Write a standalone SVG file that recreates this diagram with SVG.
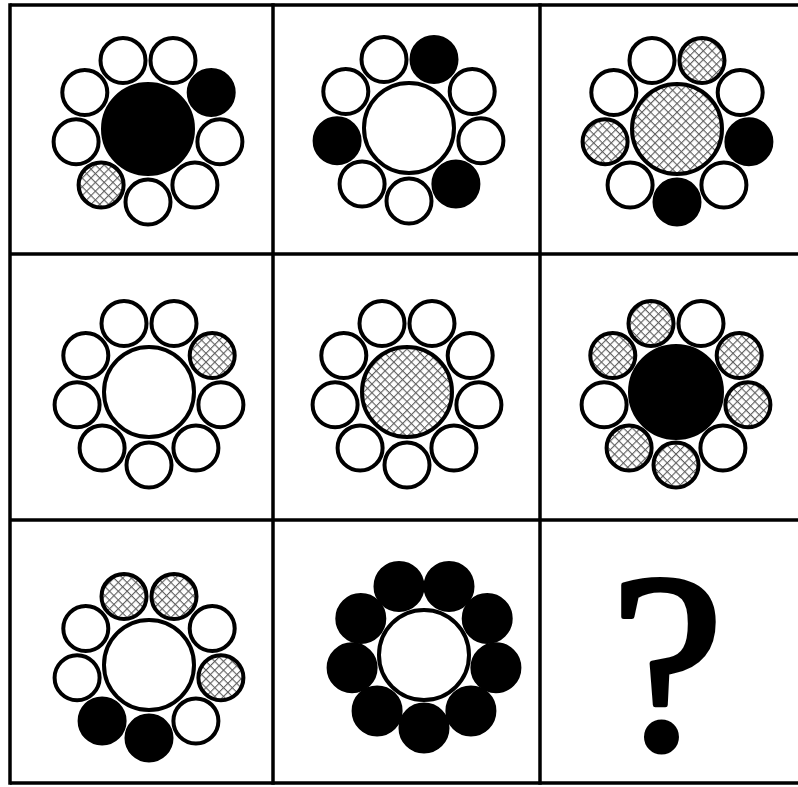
<svg xmlns="http://www.w3.org/2000/svg" xmlns:xlink="http://www.w3.org/1999/xlink" width="798" height="787" viewBox="0 0 798 787">
<style>
.grid{stroke:#000;stroke-width:3.5;fill:none}
.c{stroke:#000;stroke-width:4}
.w{fill:#fff}
.b{fill:#000}
.h{fill:url(#hatch)}
.q{font-family:"Liberation Serif",serif;font-size:255px;fill:#000;stroke:#000;stroke-width:5;stroke-linejoin:round}
</style>
<defs>
<pattern id="hatch" width="6.2" height="6.2" patternUnits="userSpaceOnUse" patternTransform="rotate(45)">
<rect width="6.2" height="6.2" fill="#fff"/>
<line x1="0" y1="0" x2="6.2" y2="0" stroke="#606060" stroke-width="2.2"/>
<line x1="0" y1="0" x2="0" y2="6.2" stroke="#606060" stroke-width="2.2"/>
</pattern>
</defs>
<rect width="798" height="787" fill="#fff"/>
<g id="grid">
<line class="grid" x1="10" y1="5" x2="798" y2="5"/>
<line class="grid" x1="10" y1="254" x2="798" y2="254"/>
<line class="grid" x1="10" y1="520" x2="798" y2="520"/>
<line class="grid" x1="10" y1="783" x2="798" y2="783"/>
<line class="grid" x1="10" y1="3.25" x2="10" y2="784.75"/>
<line class="grid" x1="273" y1="3.25" x2="273" y2="784.75"/>
<line class="grid" x1="540" y1="3.25" x2="540" y2="784.75"/>
</g>
<g id="cell1" transform="translate(148,129)">
<circle class="c w" cx="0" cy="73" r="22.5"/>
<circle class="c h" cx="-46.9" cy="55.9" r="22.5"/>
<circle class="c w" cx="-71.9" cy="12.7" r="22.5"/>
<circle class="c w" cx="-63.2" cy="-36.5" r="22.5"/>
<circle class="c w" cx="-25" cy="-68.6" r="22.5"/>
<circle class="c w" cx="25" cy="-68.6" r="22.5"/>
<circle class="c b" cx="63.2" cy="-36.5" r="22.5"/>
<circle class="c w" cx="71.9" cy="12.7" r="22.5"/>
<circle class="c w" cx="46.9" cy="55.9" r="22.5"/>
<circle class="c b" cx="0" cy="0" r="45"/>
</g>
<g id="cell2" transform="translate(409,128)">
<circle class="c w" cx="0" cy="73" r="22.5"/>
<circle class="c w" cx="-46.9" cy="55.9" r="22.5"/>
<circle class="c b" cx="-71.9" cy="12.7" r="22.5"/>
<circle class="c w" cx="-63.2" cy="-36.5" r="22.5"/>
<circle class="c w" cx="-25" cy="-68.6" r="22.5"/>
<circle class="c b" cx="25" cy="-68.6" r="22.5"/>
<circle class="c w" cx="63.2" cy="-36.5" r="22.5"/>
<circle class="c w" cx="71.9" cy="12.7" r="22.5"/>
<circle class="c b" cx="46.9" cy="55.9" r="22.5"/>
<circle class="c w" cx="0" cy="0" r="45"/>
</g>
<g id="cell3" transform="translate(677,129)">
<circle class="c b" cx="0" cy="73" r="22.5"/>
<circle class="c w" cx="-46.9" cy="55.9" r="22.5"/>
<circle class="c h" cx="-71.9" cy="12.7" r="22.5"/>
<circle class="c w" cx="-63.2" cy="-36.5" r="22.5"/>
<circle class="c w" cx="-25" cy="-68.6" r="22.5"/>
<circle class="c h" cx="25" cy="-68.6" r="22.5"/>
<circle class="c w" cx="63.2" cy="-36.5" r="22.5"/>
<circle class="c b" cx="71.9" cy="12.7" r="22.5"/>
<circle class="c w" cx="46.9" cy="55.9" r="22.5"/>
<circle class="c h" cx="0" cy="0" r="45"/>
</g>
<g id="cell4" transform="translate(149,392)">
<circle class="c w" cx="0" cy="73" r="22.5"/>
<circle class="c w" cx="-46.9" cy="55.9" r="22.5"/>
<circle class="c w" cx="-71.9" cy="12.7" r="22.5"/>
<circle class="c w" cx="-63.2" cy="-36.5" r="22.5"/>
<circle class="c w" cx="-25" cy="-68.6" r="22.5"/>
<circle class="c w" cx="25" cy="-68.6" r="22.5"/>
<circle class="c h" cx="63.2" cy="-36.5" r="22.5"/>
<circle class="c w" cx="71.9" cy="12.7" r="22.5"/>
<circle class="c w" cx="46.9" cy="55.9" r="22.5"/>
<circle class="c w" cx="0" cy="0" r="45"/>
</g>
<g id="cell5" transform="translate(407,392)">
<circle class="c w" cx="0" cy="73" r="22.5"/>
<circle class="c w" cx="-46.9" cy="55.9" r="22.5"/>
<circle class="c w" cx="-71.9" cy="12.7" r="22.5"/>
<circle class="c w" cx="-63.2" cy="-36.5" r="22.5"/>
<circle class="c w" cx="-25" cy="-68.6" r="22.5"/>
<circle class="c w" cx="25" cy="-68.6" r="22.5"/>
<circle class="c w" cx="63.2" cy="-36.5" r="22.5"/>
<circle class="c w" cx="71.9" cy="12.7" r="22.5"/>
<circle class="c w" cx="46.9" cy="55.9" r="22.5"/>
<circle class="c h" cx="0" cy="0" r="45"/>
</g>
<g id="cell6" transform="translate(676,392)">
<circle class="c h" cx="0" cy="73" r="22.5"/>
<circle class="c h" cx="-46.9" cy="55.9" r="22.5"/>
<circle class="c w" cx="-71.9" cy="12.7" r="22.5"/>
<circle class="c h" cx="-63.2" cy="-36.5" r="22.5"/>
<circle class="c h" cx="-25" cy="-68.6" r="22.5"/>
<circle class="c w" cx="25" cy="-68.6" r="22.5"/>
<circle class="c h" cx="63.2" cy="-36.5" r="22.5"/>
<circle class="c h" cx="71.9" cy="12.7" r="22.5"/>
<circle class="c w" cx="46.9" cy="55.9" r="22.5"/>
<circle class="c b" cx="0" cy="0" r="46"/>
</g>
<g id="cell7" transform="translate(149,665)">
<circle class="c b" cx="0" cy="73" r="22.5"/>
<circle class="c b" cx="-46.9" cy="55.9" r="22.5"/>
<circle class="c w" cx="-71.9" cy="12.7" r="22.5"/>
<circle class="c w" cx="-63.2" cy="-36.5" r="22.5"/>
<circle class="c h" cx="-25" cy="-68.6" r="22.5"/>
<circle class="c h" cx="25" cy="-68.6" r="22.5"/>
<circle class="c w" cx="63.2" cy="-36.5" r="22.5"/>
<circle class="c h" cx="71.9" cy="12.7" r="22.5"/>
<circle class="c w" cx="46.9" cy="55.9" r="22.5"/>
<circle class="c w" cx="0" cy="0" r="45"/>
</g>
<g id="cell8" transform="translate(424,655)">
<circle class="c b" cx="0" cy="73" r="23.5"/>
<circle class="c b" cx="-46.9" cy="55.9" r="23.5"/>
<circle class="c b" cx="-71.9" cy="12.7" r="23.5"/>
<circle class="c b" cx="-63.2" cy="-36.5" r="23.5"/>
<circle class="c b" cx="-25" cy="-68.6" r="23.5"/>
<circle class="c b" cx="25" cy="-68.6" r="23.5"/>
<circle class="c b" cx="63.2" cy="-36.5" r="23.5"/>
<circle class="c b" cx="71.9" cy="12.7" r="23.5"/>
<circle class="c b" cx="46.9" cy="55.9" r="23.5"/>
<circle class="c w" cx="0" cy="0" r="45"/>
</g>
<g id="cell9">
<text class="q" x="667" y="748" text-anchor="middle">?</text>
</g>
</svg>
